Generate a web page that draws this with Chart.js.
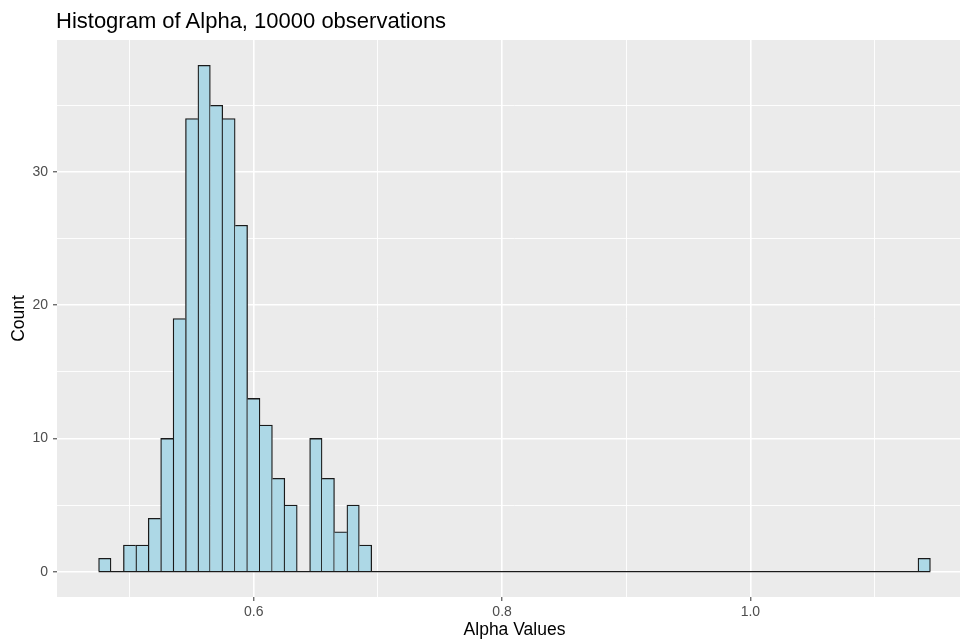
<!DOCTYPE html>
<html>
<head>
<meta charset="utf-8">
<title>Histogram of Alpha</title>
<script src="https://cdn.jsdelivr.net/npm/chart.js@4.4.1/dist/chart.umd.min.js"></script>
<style>
  html, body { margin: 0; padding: 0; background: #ffffff; }
  #frame { position: relative; width: 960px; height: 642px; overflow: hidden; }
  #plotTitle {
    position: absolute; left: 56px; top: 10px; margin: 0;
    font: 22px/21px 'Liberation Sans', Arial, sans-serif; color: #000000;
    white-space: nowrap;
  }
  #alphaHist { position: absolute; left: 0; top: 0; }
</style>
</head>
<body>
<div id="frame">
  <canvas id="alphaHist" width="972" height="642"></canvas>
  <div id="plotTitle">Histogram of Alpha, 10000 observations</div>
</div>
<script>
// Histogram bins: width 0.01, first bin centred at 0.48, last at 1.14
const binWidth = 0.01;
const firstBinCenter = 0.48;
const binCounts = [
  1, 0, 2, 2, 4, 10, 19, 34, 38, 35, 34, 26, 13, 11, 7, 5, 0, 10, 7, 3, 5, 2, // 0.48 - 0.69
  0, 0, 0, 0, 0, 0, 0, 0, 0, 0,  // 0.70 - 0.79
  0, 0, 0, 0, 0, 0, 0, 0, 0, 0,  // 0.80 - 0.89
  0, 0, 0, 0, 0, 0, 0, 0, 0, 0,  // 0.90 - 0.99
  0, 0, 0, 0, 0, 0, 0, 0, 0, 0,  // 1.00 - 1.09
  0, 0, 0, 0,                    // 1.10 - 1.13
  1                              // 1.14
];

// Axis ticks (labelled) and the panel range
const xMajorTicks = [0.6, 0.8, 1.0];
const yMajorTicks = [0, 10, 20, 30];
const xRange = [0.4415, 1.1785];
const yRange = [-1.9, 39.9];

const outline = 1.3;

const binCenters = binCounts.map((_, i) => +(firstBinCenter + i * binWidth).toFixed(2));
const histPoints = binCenters.map((x, i) => ({ x: x, y: binCounts[i] }));
const baseline = [
  { x: binCenters[0] - binWidth / 2, y: 0 },
  { x: binCenters[binCenters.length - 1] + binWidth / 2, y: 0 }
];

const isMajor = (list, v) => list.some(t => Math.abs(t - v) < 1e-6);
const tickIsMajor = (list, ctx) => !!(ctx && ctx.tick) && isMajor(list, ctx.tick.value);

// grey panel behind the plot area
const panelBackground = {
  id: 'panelBackground',
  beforeDraw(chart) {
    const { ctx, chartArea } = chart;
    ctx.save();
    ctx.fillStyle = '#EBEBEB';
    ctx.fillRect(chartArea.left, chartArea.top, chartArea.right - chartArea.left, chartArea.bottom - chartArea.top);
    ctx.restore();
  }
};

// one outline per shared edge between neighbouring bars
function barBorder(ctx) {
  const i = ctx.dataIndex;
  if (i === undefined) return outline;
  const c = binCounts[i];
  const prev = i > 0 ? binCounts[i - 1] : 0;
  const next = i < binCounts.length - 1 ? binCounts[i + 1] : 0;
  return {
    top: outline,
    bottom: 0,
    left: prev <= c ? outline : 0,
    right: next < c ? outline : 0
  };
}

Chart.defaults.font.family = "'Liberation Sans', Arial, sans-serif";

new Chart(document.getElementById('alphaHist').getContext('2d'), {
  type: 'bar',
  data: {
    datasets: [{
      type: 'bar',
      data: histPoints,
      backgroundColor: '#ADD8E6',
      borderColor: '#1A1A1A',
      borderWidth: barBorder,
      borderSkipped: false,
      barPercentage: 1,
      categoryPercentage: 1,
      order: 1
    }, {
      type: 'line',
      data: baseline,
      borderColor: '#1A1A1A',
      borderWidth: outline,
      pointRadius: 0,
      fill: false,
      order: 0
    }]
  },
  plugins: [panelBackground],
  options: {
    responsive: false,
    animation: false,
    layout: { padding: { top: 40, right: 0, left: 0, bottom: 0 } },
    plugins: {
      legend: { display: false },
      tooltip: { enabled: false },
      title: { display: false }
    },
    scales: {
      x: {
        type: 'linear',
        offset: false,
        min: xRange[0],
        max: xRange[1],
        afterFit: (scale) => { scale.height = 45; },
        border: { display: false },
        grid: {
          offset: false,
          color: '#FFFFFF',
          lineWidth: (ctx) => tickIsMajor(xMajorTicks, ctx) ? 1.6 : 0.9,
          tickColor: (ctx) => tickIsMajor(xMajorTicks, ctx) ? '#333333' : 'rgba(0,0,0,0)',
          tickWidth: 1,
          tickLength: 4
        },
        ticks: {
          stepSize: 0.1,
          includeBounds: false,
          autoSkip: false,
          maxRotation: 0,
          padding: 3,
          color: '#4D4D4D',
          font: { size: 14 },
          callback: (v) => isMajor(xMajorTicks, v) ? v.toFixed(1) : ''
        },
        title: {
          display: true,
          text: 'Alpha Values',
          color: '#000000',
          font: { size: 17.5 },
          padding: { top: 0, bottom: 1.5 }
        }
      },
      y: {
        min: yRange[0],
        max: yRange[1],
        afterFit: (scale) => { scale.width = 57; },
        border: { display: false },
        grid: {
          color: '#FFFFFF',
          lineWidth: (ctx) => tickIsMajor(yMajorTicks, ctx) ? 1.6 : 0.9,
          tickColor: (ctx) => tickIsMajor(yMajorTicks, ctx) ? '#333333' : 'rgba(0,0,0,0)',
          tickWidth: 1,
          tickLength: 4
        },
        ticks: {
          stepSize: 5,
          includeBounds: false,
          autoSkip: false,
          padding: 5,
          color: '#4D4D4D',
          font: { size: 14 },
          callback: (v) => isMajor(yMajorTicks, v) ? String(v) : ''
        },
        title: {
          display: true,
          text: 'Count',
          color: '#000000',
          font: { size: 17.5 },
          padding: { top: 8.5, bottom: 0 }
        }
      }
    }
  }
});
</script>
</body>
</html>
